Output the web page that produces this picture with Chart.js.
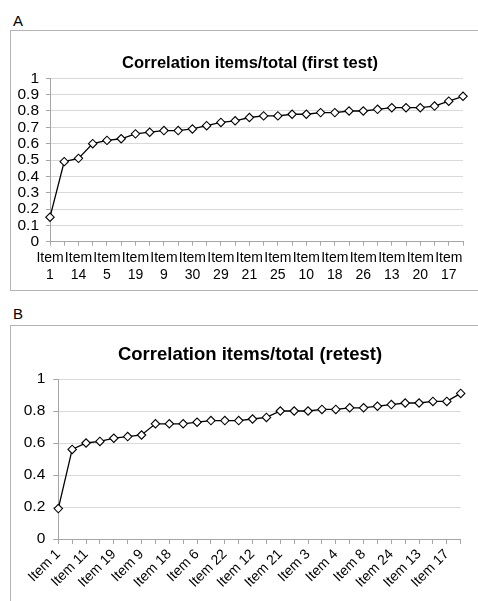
<!DOCTYPE html>
<html>
<head>
<meta charset="utf-8">
<script src="https://cdn.jsdelivr.net/npm/chart.js@4.4.1/dist/chart.umd.min.js"></script>
<style>
  html, body { margin: 0; padding: 0; background: #fff; width: 478px; height: 601px; overflow: hidden; }
  body { position: relative; font-family: "Liberation Sans", Arial, Helvetica, sans-serif; }
  .panel-label { position: absolute; font-size: 15px; color: #000; }
  .box { position: absolute; border: 1px solid #b4b4b4; box-sizing: border-box; }
  canvas { position: absolute; }
</style>
</head>
<body>
<div class="panel-label" style="left:13px; top:12px;">A</div>
<div class="box" style="left:10px; top:30px; width:480px; height:261px;"></div>
<canvas id="chartA" width="478" height="259" style="left:11px; top:31px;"></canvas>

<div class="panel-label" style="left:13px; top:305px;">B</div>
<div class="box" style="left:10px; top:325px; width:480px; height:300px;"></div>
<canvas id="chartB" width="478" height="275" style="left:11px; top:326px;"></canvas>

<script>
// ---------- Data ----------
// Item numbers (every other category is labelled in the picture; the
// unlabelled ones are filled with the remaining item numbers)
const itemsA = [1, 2, 14, 3, 5, 4, 19, 6, 9, 7, 30, 8, 29, 11, 21, 12, 25, 15, 10, 16, 18, 22, 26, 23, 13, 24, 20, 27, 17, 28];
const valuesA = [0.15, 0.49, 0.51, 0.60, 0.62, 0.63, 0.66, 0.67, 0.68, 0.68,
                 0.69, 0.71, 0.73, 0.74, 0.76, 0.77, 0.77, 0.78, 0.78, 0.79,
                 0.79, 0.80, 0.80, 0.81, 0.82, 0.82, 0.82, 0.83, 0.86, 0.89];
const titleA = 'Correlation items/total (first test)';

const itemsB = [1, 2, 11, 5, 19, 7, 9, 10, 18, 14, 6, 15, 22, 16, 12, 20, 21, 23, 3, 25, 4, 26, 8, 27, 24, 28, 13, 29, 17, 30];
const valuesB = [0.19, 0.56, 0.60, 0.61, 0.63, 0.64, 0.65, 0.72, 0.72, 0.72,
                 0.73, 0.74, 0.74, 0.74, 0.75, 0.76, 0.80, 0.80, 0.80, 0.81,
                 0.81, 0.82, 0.82, 0.83, 0.84, 0.85, 0.85, 0.86, 0.86, 0.91];
const titleB = 'Correlation items/total (retest)';

// ---------- Setup ----------
Chart.defaults.font.family = '"Liberation Sans", Arial, Helvetica, sans-serif';
Chart.defaults.color = '#000';

const AXIS = '#a6a6a6';
const GRID = '#d9d9d9';
const fmt = v => String(+Number(v).toFixed(2));

function dataset(values) {
  return {
    data: values,
    borderColor: '#000',
    borderWidth: 1.3,
    pointStyle: 'rectRot',
    pointRadius: 4.2,
    pointBorderWidth: 1.1,
    pointBackgroundColor: '#fff',
    pointBorderColor: '#000',
    tension: 0,
    fill: false
  };
}

// invisible right-hand spacer axis (keeps the title centred over the whole frame)
function spacer(w) {
  return {
    type: 'linear', position: 'right', min: 0, max: 1,
    grid: { display: false }, border: { display: false }, ticks: { display: false },
    afterFit: s => { s.width = w; }
  };
}

// Chart A
new Chart(document.getElementById('chartA'), {
  type: 'line',
  data: {
    labels: itemsA.map(n => 'Item ' + n),
    datasets: [dataset(valuesA)]
  },
  options: {
    responsive: false,
    animation: false,
    devicePixelRatio: 1,
    layout: { padding: 0 },
    plugins: {
      legend: { display: false },
      tooltip: { enabled: false },
      title: {
        display: true,
        text: titleA,
        color: '#000',
        font: { size: 16.5, weight: 'bold' },
        padding: { top: 22.2, bottom: 5.3 }
      }
    },
    scales: {
      x: {
        type: 'category',
        offset: false,
        grid: { drawOnChartArea: false, drawTicks: true, tickLength: 4, color: AXIS },
        border: { color: AXIS, width: 1 },
        ticks: {
          autoSkip: false,
          maxRotation: 0,
          minRotation: 0,
          padding: 4,
          font: { size: 14 },
          color: '#000',
          callback: function (v, i) { return i % 2 === 0 ? ['Item', String(itemsA[i])] : ''; }
        },
        afterFit: s => { s.height = 48.3; }
      },
      y: {
        min: 0, max: 1,
        grid: { color: GRID, tickColor: AXIS, tickLength: 4 },
        border: { color: AXIS, width: 1 },
        ticks: { stepSize: 0.1, autoSkip: false, padding: 7, font: { size: 15.5, lineHeight: 0.9 }, color: '#000', callback: fmt },
        afterFit: s => { s.width = 39; }
      },
      yr: spacer(26)
    }
  }
});

// Chart B
new Chart(document.getElementById('chartB'), {
  type: 'line',
  data: {
    labels: itemsB.map(n => 'Item ' + n),
    datasets: [dataset(valuesB)]
  },
  options: {
    responsive: false,
    animation: false,
    devicePixelRatio: 1,
    layout: { padding: 0 },
    plugins: {
      legend: { display: false },
      tooltip: { enabled: false },
      title: {
        display: true,
        text: titleB,
        color: '#000',
        font: { size: 18.5, weight: 'bold' },
        padding: { top: 18, bottom: 12.8 }
      }
    },
    scales: {
      x: {
        type: 'category',
        offset: false,
        grid: { drawOnChartArea: false, drawTicks: true, tickLength: 5, color: AXIS },
        border: { color: AXIS, width: 1 },
        ticks: {
          autoSkip: false,
          maxRotation: 45,
          minRotation: 45,
          padding: 2,
          font: { size: 14 },
          color: '#000',
          callback: function (v, i) { return i % 2 === 0 ? 'Item ' + itemsB[i] : ''; }
        },
        afterFit: s => { s.height = 62; }
      },
      y: {
        min: 0, max: 1,
        grid: { color: GRID, tickColor: AXIS, tickLength: 5 },
        border: { color: AXIS, width: 1 },
        ticks: { stepSize: 0.2, padding: 8, font: { size: 15.5 }, color: '#000', callback: fmt },
        afterFit: s => { s.width = 47.3; }
      },
      yr: spacer(28.3)
    }
  }
});
</script>
</body>
</html>
